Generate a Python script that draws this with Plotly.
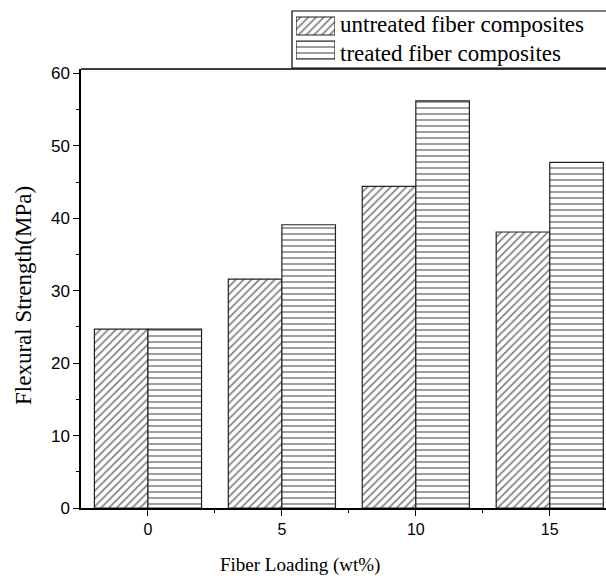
import plotly.graph_objects as go

loading = [0, 5, 10, 15]
untreated = [24.7, 31.6, 44.4, 38.1]
treated = [24.7, 39.1, 56.2, 47.7]
series_names = ["untreated fiber composites", "treated fiber composites"]
y_ticks = [0, 10, 20, 30, 40, 50, 60]
x_ticks = [0, 5, 10, 15]
x_title = "Fiber Loading (wt%)"
y_title = "Flexural Strength(MPa)"

W, H = 606, 578
ML, MR, MT, MB = 81, 0, 5, 70
plot_h = H - MT - MB
plot_w = W - ML - MR
bottom_px = H - MB          # pixel y of y=0


def ydom(px):  # pixel y -> paper fraction
    return (bottom_px - px) / plot_h


def xdom(px):
    return (px - ML) / plot_w


hatch_u = dict(shape="/", fgcolor="black", bgcolor="white", size=5.5, solidity=0.3)
hatch_t = dict(shape="-", fgcolor="black", bgcolor="white", size=6, solidity=0.25)
outline = dict(color="#222", width=1.2)

fig = go.Figure()
fig.add_trace(go.Bar(
    x=loading, y=untreated, name=series_names[0], showlegend=False,
    marker=dict(color="white", line=outline, pattern=hatch_u),
))
fig.add_trace(go.Bar(
    x=loading, y=treated, name=series_names[1], showlegend=False,
    marker=dict(color="white", line=outline, pattern=hatch_t),
))

# legend swatches drawn as bars on a small auxiliary axis
fig.add_trace(go.Bar(
    x=[1], y=[1], orientation="h", xaxis="x2", yaxis="y2", showlegend=False,
    hoverinfo="skip", width=0.75, marker=dict(color="white", line=outline, pattern=hatch_u),
))
fig.add_trace(go.Bar(
    x=[1], y=[0], orientation="h", xaxis="x2", yaxis="y2", showlegend=False,
    hoverinfo="skip", width=0.75, marker=dict(color="white", line=outline, pattern=hatch_t),
))

sw_top, sw_bot = 14, 62
main_top = 69

fig.update_layout(
    width=W, height=H,
    margin=dict(l=ML, r=MR, t=MT, b=MB),
    paper_bgcolor="white", plot_bgcolor="white",
    barmode="group", bargap=0.2, bargroupgap=0,
    showlegend=False,
    font=dict(family="Liberation Sans", size=16, color="black"),
    xaxis2=dict(domain=[xdom(296), xdom(335)], anchor="y2", range=[0, 1],
                visible=False, fixedrange=True),
    yaxis2=dict(domain=[ydom(sw_bot), ydom(sw_top)], anchor="x2", range=[-0.5, 1.5],
                visible=False, fixedrange=True),
    shapes=[
        dict(type="rect", xref="paper", yref="paper",
             x0=xdom(292), x1=xdom(620), y0=ydom(68), y1=ydom(11),
             line=dict(color="black", width=1.2), fillcolor="rgba(0,0,0,0)", layer="below"),
        dict(type="line", xref="paper", yref="paper", x0=0, x1=1,
             y0=ydom(main_top), y1=ydom(main_top), line=dict(color="black", width=1.5)),
    ],
    annotations=[
        dict(text=series_names[0], xref="paper", yref="paper", x=xdom(338), y=ydom(25),
             xanchor="left", yanchor="middle", showarrow=False,
             font=dict(family="Liberation Serif", size=23, color="black")),
        dict(text=series_names[1], xref="paper", yref="paper", x=xdom(338), y=ydom(53),
             xanchor="left", yanchor="middle", showarrow=False,
             font=dict(family="Liberation Serif", size=23, color="black")),
        dict(text=x_title, xref="paper", yref="paper", x=xdom(300), y=ydom(565),
             xanchor="center", yanchor="middle", showarrow=False,
             font=dict(family="Liberation Serif", size=19, color="black")),
        dict(text=y_title, xref="paper", yref="paper", x=xdom(23), y=ydom(296),
             xanchor="center", yanchor="middle", showarrow=False, textangle=-90,
             font=dict(family="Liberation Serif", size=23, color="black")),
    ],
    xaxis=dict(
        range=[-2.5, 17.1], tickvals=x_ticks, ticktext=[str(v) for v in x_ticks],
        ticks="outside", ticklen=6, tickwidth=1.2, tickcolor="black",
        minor=dict(tickvals=[2.5, 7.5, 12.5], ticks="outside", ticklen=3, tickcolor="black", tickwidth=1.2),
        showline=True, linecolor="black", linewidth=1.5, mirror=False,
        showgrid=False, zeroline=False,
        tickfont=dict(family="Liberation Sans", size=16),
    ),
    yaxis=dict(
        domain=[0, ydom(main_top)],
        range=[0, 60.6], tickvals=y_ticks,
        ticks="outside", ticklen=6, tickwidth=1.2, tickcolor="black",
        minor=dict(dtick=5, tick0=5, ticks="outside", ticklen=3, tickcolor="black", tickwidth=1.2),
        showline=True, linecolor="black", linewidth=1.5, mirror=False,
        showgrid=False, zeroline=False,
        tickfont=dict(family="Liberation Sans", size=17),
    ),
)

fig.write_html("out.html")
